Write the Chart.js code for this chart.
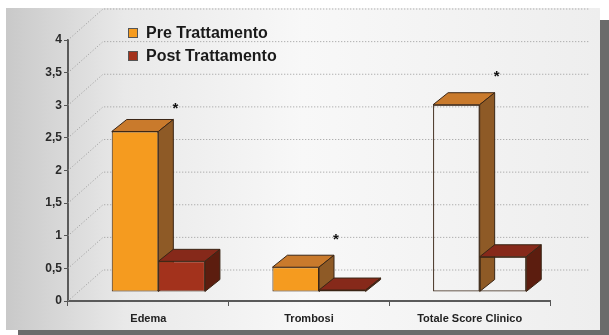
<!DOCTYPE html>
<html>
<head>
<meta charset="utf-8">
<script src="https://cdn.jsdelivr.net/npm/chart.js@4/dist/chart.umd.min.js"></script>
<style>
  html, body { margin: 0; padding: 0; background: #fff; }
  canvas { display: block; }
</style>
</head>
<body>
<canvas id="myChart" width="609" height="335"></canvas>
<script>
const categories = ['Edema', 'Trombosi', 'Totale Score Clinico'];
const preValues = [2.46, 0.38, 2.87];
const postValues = [0.47, 0.03, 0.54];
const starValues = [3.0, 1.0, 3.5];
const yTickLabels = ['0', '0,5', '1', '1,5', '2', '2,5', '3', '3,5', '4'];

// the total bars are drawn hollow in the original
const preFront = ['#f59b1f', '#f59b1f', 'rgba(255,255,255,0)'];
const postFront = ['#a3321c', '#a3321c', 'rgba(255,255,255,0)'];

// 3d look: bars sit a bit behind the axes, faces go up/right
const barShift = {x: 10, y: -9};
const barDepth = {x: 15, y: -12};
const wallShift = {x: 35, y: -31};

const faces = [
    {top: '#c97a2c', side: '#8e5a26'},
    {top: '#86291a', side: '#5c1d0f'}
];

const background = {
    id: 'background',
    beforeDraw(chart) {
        const ctx = chart.ctx;
        ctx.save();
        ctx.fillStyle = '#ffffff';
        ctx.fillRect(0, 0, chart.width, chart.height);
        ctx.fillStyle = '#6b6b6b';
        ctx.fillRect(18, 20, 591, 315);
        const g = ctx.createLinearGradient(6, 0, 600, 0);
        g.addColorStop(0, '#c9c9c9');
        g.addColorStop(0.2, '#e9e9e9');
        g.addColorStop(0.5, '#f8f8f8');
        g.addColorStop(1, '#eeeeee');
        ctx.fillStyle = g;
        ctx.fillRect(6, 8, 594, 322);
        ctx.restore();
    }
};

const wall = {
    id: 'wall',
    beforeDatasetsDraw(chart) {
        const ctx = chart.ctx;
        const y = chart.scales.y;
        const area = chart.chartArea;
        ctx.save();
        ctx.strokeStyle = '#9a9a9a';
        ctx.lineWidth = 1;
        ctx.setLineDash([1, 2]);
        y.ticks.forEach(t => {
            const py = y.getPixelForValue(t.value);
            ctx.beginPath();
            ctx.moveTo(area.left, py);
            ctx.lineTo(area.left + wallShift.x, py + wallShift.y);
            ctx.lineTo(area.right + 40, py + wallShift.y);
            ctx.stroke();
        });
        ctx.restore();
    }
};

const bars3d = {
    id: 'bars3d',
    beforeDatasetsDraw(chart) {
        const ctx = chart.ctx;
        const metas = chart.data.datasets.map((d, i) => chart.getDatasetMeta(i));
        ctx.save();
        ctx.translate(barShift.x, barShift.y);
        for (let i = 0; i < categories.length; i++) {
            metas.forEach((meta, d) => {
                const el = meta.data[i];
                const p = el.getProps(['x', 'y', 'base', 'width'], true);
                const l = p.x - p.width / 2, r = p.x + p.width / 2;
                el.draw(ctx);
                ctx.lineWidth = 1;
                ctx.strokeStyle = '#3a2616';
                ctx.lineJoin = 'round';
                // top face
                ctx.beginPath();
                ctx.moveTo(l, p.y);
                ctx.lineTo(l + barDepth.x, p.y + barDepth.y);
                ctx.lineTo(r + barDepth.x, p.y + barDepth.y);
                ctx.lineTo(r, p.y);
                ctx.closePath();
                ctx.fillStyle = faces[d].top;
                ctx.fill();
                ctx.stroke();
                // side face
                ctx.beginPath();
                ctx.moveTo(r, p.y);
                ctx.lineTo(r + barDepth.x, p.y + barDepth.y);
                ctx.lineTo(r + barDepth.x, p.base + barDepth.y);
                ctx.lineTo(r, p.base);
                ctx.closePath();
                ctx.fillStyle = faces[d].side;
                ctx.fill();
                ctx.stroke();
            });
        }
        ctx.restore();

        // significance marks
        const y = chart.scales.y;
        ctx.save();
        ctx.fillStyle = '#111';
        ctx.font = 'bold 15px "Liberation Sans", Arial, sans-serif';
        ctx.textAlign = 'center';
        ctx.textBaseline = 'middle';
        metas[0].data.forEach((el, i) => {
            const px = el.x + el.width / 2 + barShift.x + barDepth.x + 2;
            ctx.fillText('*', px, y.getPixelForValue(starValues[i]) + 4);
        });
        ctx.restore();
        return false;
    }
};

const legendBox = {
    id: 'legendBox',
    afterDraw(chart) {
        const ctx = chart.ctx;
        ctx.save();
        ctx.font = 'bold 16px "Liberation Sans", Arial, sans-serif';
        ctx.textBaseline = 'middle';
        chart.data.datasets.forEach((ds, i) => {
            const cy = 33 + i * 23;
            ctx.fillStyle = ds.legendColor;
            ctx.fillRect(128, cy - 5, 10, 10);
            ctx.strokeStyle = '#555';
            ctx.lineWidth = 1;
            ctx.strokeRect(128.5, cy - 4.5, 9, 9);
            ctx.fillStyle = '#1a1a1a';
            ctx.fillText(ds.label, 146, cy + 1);
        });
        ctx.restore();
    }
};

new Chart(document.getElementById('myChart').getContext('2d'), {
    type: 'bar',
    data: {
        labels: categories,
        datasets: [{
            label: 'Pre Trattamento',
            data: preValues,
            backgroundColor: preFront,
            legendColor: '#f59b1f',
            borderColor: '#3a2616',
            borderWidth: 1,
            borderSkipped: false,
            categoryPercentage: 0.58,
            barPercentage: 1
        }, {
            label: 'Post Trattamento',
            data: postValues,
            backgroundColor: postFront,
            legendColor: '#a3321c',
            borderColor: '#3a2616',
            borderWidth: 1,
            borderSkipped: false,
            categoryPercentage: 0.58,
            barPercentage: 1
        }]
    },
    options: {
        responsive: false,
        animation: false,
        devicePixelRatio: 1,
        layout: {padding: {left: 8, right: 59, top: 40, bottom: 0}},
        plugins: {
            legend: {display: false},
            tooltip: {enabled: false}
        },
        scales: {
            x: {
                offset: true,
                afterFit: s => { s.height = 34; },
                grid: {
                    display: true,
                    drawOnChartArea: false,
                    tickLength: 5,
                    color: '#555',
                    lineWidth: 1
                },
                border: {display: true, color: '#5a5a5a', width: 2},
                ticks: {
                    color: '#222',
                    padding: 6,
                    maxRotation: 0,
                    font: {family: '"Liberation Sans", Arial, sans-serif', size: 11, weight: 'bold'}
                }
            },
            y: {
                min: 0,
                max: 4,
                afterFit: s => { s.width = 60; },
                grid: {
                    display: true,
                    drawOnChartArea: false,
                    tickLength: 4,
                    color: '#555'
                },
                border: {display: true, color: '#5a5a5a', width: 2},
                ticks: {
                    stepSize: 0.5,
                    color: '#2a2a2a',
                    padding: 2,
                    font: {family: '"Liberation Sans", Arial, sans-serif', size: 12, weight: 'bold'},
                    callback: (v, i) => yTickLabels[i]
                }
            }
        }
    },
    plugins: [background, wall, bars3d, legendBox]
});
</script>
</body>
</html>
